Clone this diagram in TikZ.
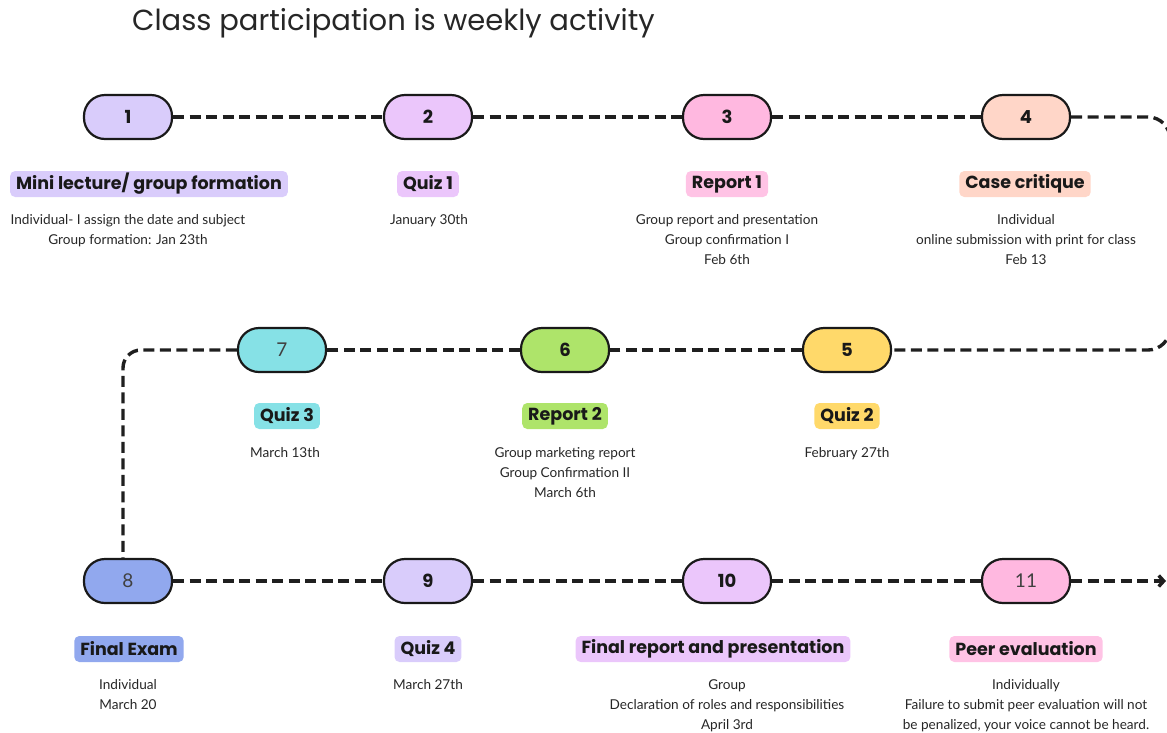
\documentclass[tikz,border=0pt]{standalone}
\usepackage{fontspec}
\setmainfont{Lato}
\newfontfamily\headfont{Poppins}
\usetikzlibrary{arrows.meta}

\definecolor{lav}{HTML}{D9CCFB}
\definecolor{vio}{HTML}{EBC6FB}
\definecolor{pnk}{HTML}{FFB8E0}
\definecolor{pch}{HTML}{FFD6C8}
\definecolor{cyn}{HTML}{86E1E6}
\definecolor{grn}{HTML}{AEE46A}
\definecolor{ylw}{HTML}{FFD96A}
\definecolor{blu}{HTML}{91A8EE}

\tikzset{
  pill/.style={draw=black!90, line width=2.2pt, rounded corners=21pt,
    minimum width=88pt, minimum height=44pt, inner sep=0pt,
    font=\headfont\bfseries\fontsize{18}{18}\selectfont, text=black!90},
  lightnum/.style={font=\rmfamily\fontsize{19}{19}\selectfont, text=black!75},
  tag/.style={rounded corners=5pt, inner xsep=6pt, inner ysep=0pt,
    minimum height=26pt, font=\headfont\bfseries\fontsize{17.5}{17.5}\selectfont,
    text=black!90},
  % anchored at the baseline of the last line
  desc/.style={align=center, anchor=base, inner sep=0pt,
    font=\fontsize{13.6}{20}\selectfont, text=black!85},
  conn/.style={line width=3.4pt, dash pattern=on 11pt off 5.5pt, draw=black!88}
}

\begin{document}
\begin{tikzpicture}[x=1pt, y=-1pt]
\useasboundingbox (0,0) rectangle (1167,732);

\node[anchor=base west, inner sep=0pt, font=\headfont\fontsize{29}{29}\selectfont, text=black!85]
  (title) at (132,30) {Class participation is weekly activity};

% milestone pills
\node[pill, fill=lav] (p1) at (128,117) {1};
\node[pill, fill=vio] (p2) at (428,117) {2};
\node[pill, fill=pnk] (p3) at (727,117) {3};
\node[pill, fill=pch] (p4) at (1026,117) {4};
\node[pill, fill=ylw] (p5) at (847,350) {5};
\node[pill, fill=grn] (p6) at (565,350) {6};
\node[pill, fill=cyn, lightnum] (p7) at (282,350) {7};
\node[pill, fill=blu, lightnum] (p8) at (128,581) {8};
\node[pill, fill=lav] (p9) at (428,581) {9};
\node[pill, fill=vio] (p10) at (727,581) {10};
\node[pill, fill=pnk, lightnum] (p11) at (1026,581) {11};

% connectors
\draw[conn] (p1) -- (p2);
\draw[conn] (p2) -- (p3);
\draw[conn] (p3) -- (p4);
\draw[conn, rounded corners=22pt] (p4.east) -- (1170,117) -- (1170,350) -- (p5.east);
\draw[conn] (p5) -- (p6);
\draw[conn] (p6) -- (p7);
\coordinate (bend) at (123,350);
\draw[conn, rounded corners=18pt] (p7.west) -- (bend) -- (bend |- p8.north);
\draw[conn] (p8) -- (p9);
\draw[conn] (p9) -- (p10);
\draw[conn] (p10) -- (p11);
\coordinate (tip) at (1166,581);
\draw[conn, -{Straight Barb[length=5pt,width=11pt]}] (p11.east) -- (tip);

% titles
\node[tag, fill=lav] (t1) at (149,184) {Mini lecture/ group formation};
\node[tag, fill=vio] (t2) at (428,184) {Quiz 1};
\node[tag, fill=pnk!85] (t3) at (727,184) {Report 1};
\node[tag, fill=pch] (t4) at (1025,184) {Case critique};
\node[tag, fill=cyn] (t7) at (287,416) {Quiz 3};
\node[tag, fill=grn] (t6) at (565,416) {Report 2};
\node[tag, fill=ylw] (t5) at (847,416) {Quiz 2};
\node[tag, fill=blu] (t8) at (129,649) {Final Exam};
\node[tag, fill=lav] (t9) at (428,649) {Quiz 4};
\node[tag, fill=vio] (t10) at (713,649) {Final report and presentation};
\node[tag, fill=pnk!85] (t11) at (1026,649) {Peer evaluation};

% details
\node[desc] (d1) at (128,244) {Individual- I assign the date and subject\\Group formation: Jan 23th};
\node[desc] (d2) at (429,224) {January 30th};
\node[desc] (d3) at (727,264) {Group report and presentation\\Group confirmation I\\Feb 6th};
\node[desc] (d4) at (1026,264) {Individual\\online submission with print for class\\Feb 13};
\node[desc] (d7) at (285,457) {March 13th};
\node[desc] (d6) at (565,497) {Group marketing report\\Group Confirmation II\\March 6th};
\node[desc] (d5) at (847,457) {February 27th};
\node[desc] (d8) at (128,709) {Individual\\March 20};
\node[desc] (d9) at (428,689) {March 27th};
\node[desc] (d10) at (727,729) {Group\\Declaration of roles and responsibilities\\April 3rd};
\node[desc] (d11) at (1026,729) {Individually\\Failure to submit peer evaluation will not\\be penalized, your voice cannot be heard.};
\end{tikzpicture}
\end{document}
